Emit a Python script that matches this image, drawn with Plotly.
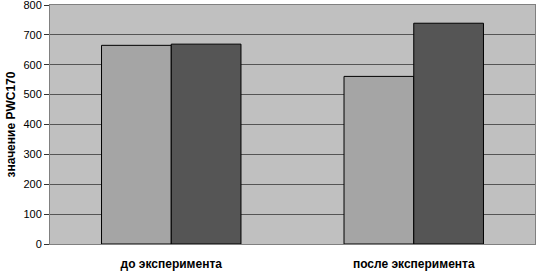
import plotly.graph_objects as go

categories = ["до эксперимента", "после эксперимента"]
series1 = [665, 561]
series2 = [669, 739]
y_ticks = [0, 100, 200, 300, 400, 500, 600, 700, 800]

fig = go.Figure()
fig.add_trace(go.Bar(x=categories, y=series1, marker=dict(color="#a5a5a5", line=dict(color="#000000", width=1))))
fig.add_trace(go.Bar(x=categories, y=series2, marker=dict(color="#555555", line=dict(color="#000000", width=1))))

fig.update_layout(
    width=536, height=273,
    margin=dict(l=50, r=1, t=5, b=29),
    paper_bgcolor="white",
    plot_bgcolor="#c0c0c0",
    showlegend=False,
    barmode="group",
    bargap=0.425,
    bargroupgap=0,
    font=dict(family="Liberation Sans, Arial", size=11, color="black"),
)
fig.update_xaxes(
    showline=True, linecolor="#808080", linewidth=1, mirror=True,
    ticks="", tickfont=dict(size=12, family="Liberation Sans, Arial"),
    tickvals=categories,
    ticktext=["<b>" + c + "</b>" for c in categories],
    ticklabelstandoff=9,
    automargin=False,
)
fig.update_yaxes(
    range=[0, 800], tickvals=y_ticks, showgrid=True, gridcolor="#555555", gridwidth=1,
    showline=True, linecolor="#808080", linewidth=1, mirror=True,
    ticks="outside", ticklen=5, tickcolor="#333333",
    ticklabeloverflow="allow",
    title=dict(text="<b>значение PWC170</b>", font=dict(size=12), standoff=5),
    zeroline=False,
    automargin=False,
)
fig.write_html(
    "out.html",
    config={"displayModeBar": False},
    post_script="document.body.style.margin='0';document.body.style.overflow='hidden';",
)
